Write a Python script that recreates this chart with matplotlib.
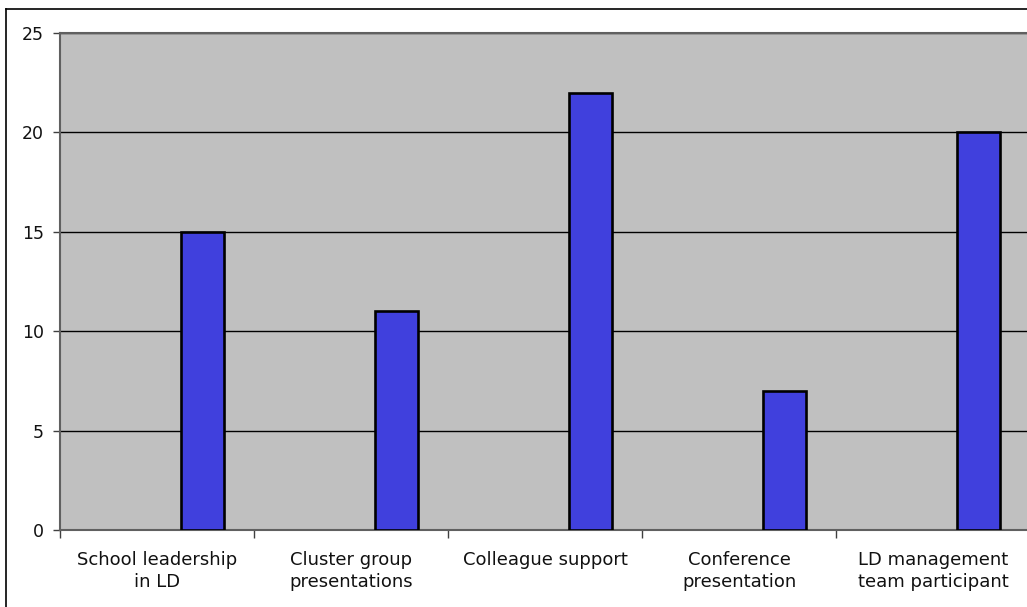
import matplotlib
matplotlib.use("Agg")
import matplotlib.pyplot as plt
from matplotlib.lines import Line2D
import numpy as np

categories = ["School leadership\nin LD", "Cluster group\npresentations",
              "Colleague support", "Conference\npresentation",
              "LD management\nteam participant"]
values = [15, 11, 22, 7, 20]
yticks = [0, 5, 10, 15, 20, 25]

W, H = 1027, 607
fig = plt.figure(figsize=(W / 100, H / 100), dpi=100)
fig.patch.set_facecolor("white")

left_px, right_px, top_px, bottom_px = 60, 1030, 33, 530
ax = fig.add_axes([left_px / W, 1 - bottom_px / H,
                   (right_px - left_px) / W, (bottom_px - top_px) / H])
ax.set_facecolor("#C0C0C0")

x = np.arange(len(categories))
ax.bar(x + 0.235, values, width=0.222, color="#4040DD",
       edgecolor="black", linewidth=1.9, zorder=3)

ax.set_xlim(-0.5, len(categories) - 0.5)
ax.set_ylim(0, 25)
ax.set_yticks(yticks)
ax.set_yticklabels([str(v) for v in yticks])
ax.yaxis.grid(True, color="black", linewidth=1.0, zorder=1)
ax.set_axisbelow(True)

ax.set_xticks(x)
ax.set_xticklabels(categories, fontsize=13, linespacing=1.32, color="#111111")
ax.set_xticks(np.arange(len(categories)) - 0.5, minor=True)
ax.tick_params(axis="x", which="major", length=0, pad=15)
ax.tick_params(axis="x", which="minor", length=6, width=1, color="#404040",
               direction="out")
ax.tick_params(axis="y", length=5, width=1, color="#404040", direction="out",
               labelsize=12.5, pad=6.5, labelcolor="#111111")

for s in ["top", "left", "bottom", "right"]:
    ax.spines[s].set_color("#606060")
    ax.spines[s].set_linewidth(1.5)

# outer chart border (visible top and left)
fig.add_artist(Line2D([6 / W, 6 / W], [0, 1 - 8.7 / H], transform=fig.transFigure,
                      color="black", linewidth=1.2))
fig.add_artist(Line2D([6 / W, 1], [1 - 8.7 / H, 1 - 8.7 / H], transform=fig.transFigure,
                      color="black", linewidth=1.2))

fig.savefig("out.png", dpi=100)
